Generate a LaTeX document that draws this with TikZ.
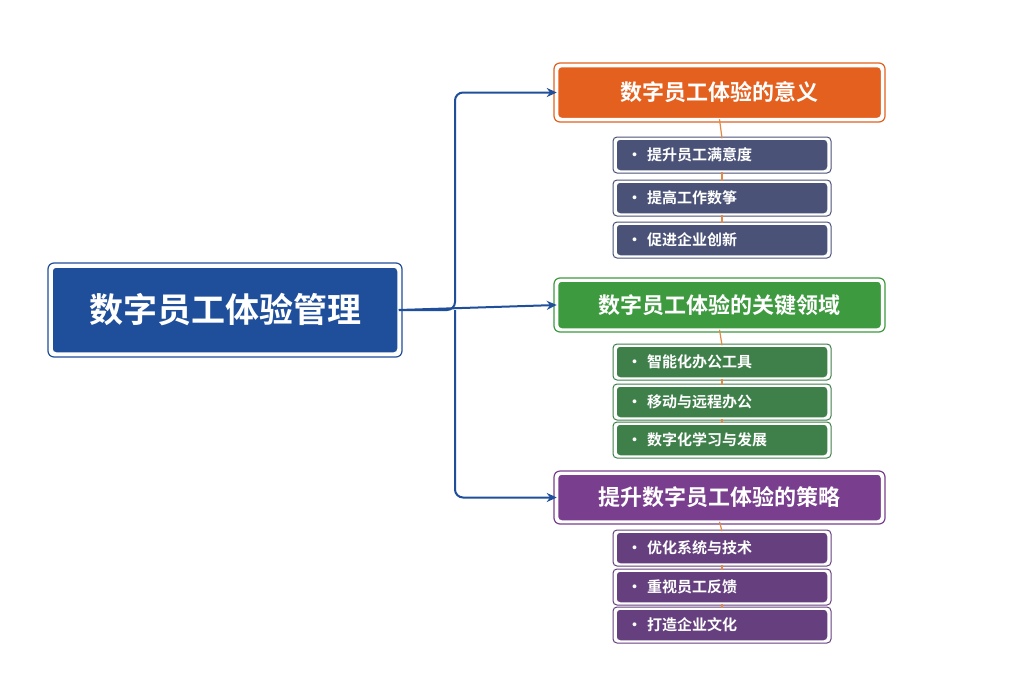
\documentclass[tikz,border=0pt]{standalone}
\usepackage{fontspec}
\newfontfamily\cjk{Noto Sans CJK SC}[BoldFont={* Bold}]
\usetikzlibrary{arrows.meta}
\definecolor{mblue}{HTML}{1F4E9A}
\definecolor{morange}{HTML}{E4601E}
\definecolor{mgreen}{HTML}{3D9A3F}
\definecolor{mpurple}{HTML}{7A3E8E}
\definecolor{sblue}{HTML}{4A5278}
\definecolor{sgreen}{HTML}{3E7F4A}
\definecolor{spurple}{HTML}{653F7E}
\definecolor{conn}{HTML}{E08A45}
\tikzset{
  box/.style={draw=white,line width=1.5pt,rounded corners=4pt,text=white,font=\cjk\bfseries,inner sep=0pt},
  hdr/.style={box,minimum width=324pt,minimum height=52pt,font=\cjk\bfseries\fontsize{22}{26}\selectfont},
  sub/.style={box,minimum width=212pt,minimum height=32pt,font=\cjk\bfseries\fontsize{15}{18}\selectfont,text width=190pt,align=left},
  arr/.style={draw=mblue,line width=2pt,-{Stealth[length=10pt,width=9pt]},rounded corners=8pt},
  vline/.style={draw=conn,line width=1.2pt}
}
\begin{document}
\begin{tikzpicture}[x=1pt,y=-1pt]
\useasboundingbox (0,0) rectangle (1024,683);
\fill[white] (0,0) rectangle (1024,683);
\node[box,fill=mblue,minimum width=346pt,minimum height=86pt,font=\cjk\bfseries\fontsize{34}{40}\selectfont] (main) at (225,310) {数字员工体验管理};
\draw[mblue,line width=1.2pt,rounded corners=6pt] (48,263) rectangle (402,357);
\draw[morange,line width=1.2pt,rounded corners=6pt] (554,63) rectangle (885,122);
\draw[mgreen,line width=1.2pt,rounded corners=6pt] (554,278) rectangle (885,332);
\draw[mpurple,line width=1.2pt,rounded corners=6pt] (554,471) rectangle (885,524);
\node[hdr,fill=morange] (h1) at (719.5,92.5) {数字员工体验的意义};
\node[hdr,fill=mgreen,minimum height=48pt] (h2) at (719.5,305) {数字员工体验的关键领域};
\node[hdr,fill=mpurple,minimum height=47pt] (h3) at (719.5,497.5) {提升数字员工体验的策略};
\coordinate (j) at (455,310);
\draw[arr] (main.east) -- (j) |- (h1.west);
\draw[arr] (main.east) -- (h2.west);
\draw[arr] (j) |- (h3.west);
\foreach \n/\y/\c/\t in {a1/155/sblue/提升员工满意度,a2/198/sblue/提高工作数筝,a3/240/sblue/促进企业创新,
 b1/362/sgreen/智能化办公工具,b2/402/sgreen/移动与远程办公,b3/440/sgreen/数字化学习与发展,
 c1/548/spurple/优化系统与技术,c2/587/spurple/重视员工反馈,c3/625/spurple/打造企业文化}{
 \draw[\c,line width=1pt,rounded corners=4pt] (613,\y-18) rectangle (831,\y+18);
 \node[sub,fill=\c] (\n) at (722,\y) {\textbullet\ \t};
}
\begin{scope}[on background layer/.style={}]
\end{scope}
\draw[vline] (h1.south) -- (a1.north); \draw[vline] (a1.south) -- (a2.north); \draw[vline] (a2.south) -- (a3.north);
\draw[vline] (h2.south) -- (b1.north); \draw[vline] (b1.south) -- (b2.north); \draw[vline] (b2.south) -- (b3.north);
\draw[vline] (h3.south) -- (c1.north); \draw[vline] (c1.south) -- (c2.north); \draw[vline] (c2.south) -- (c3.north);
\end{tikzpicture}
\end{document}
